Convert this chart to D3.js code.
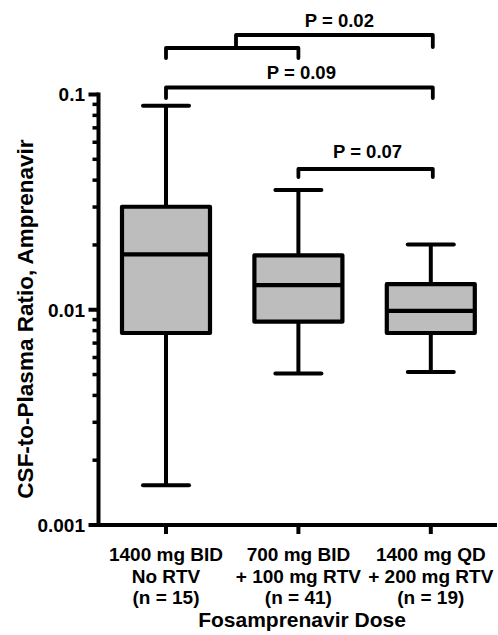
<!DOCTYPE html>
<html>
<head>
<meta charset="utf-8">
<script src="https://cdn.jsdelivr.net/npm/d3@7"></script>
<style>
  html, body { margin: 0; padding: 0; background: #fff; }
  svg { display: block; }
  text { font-family: "Liberation Sans", Arial, Helvetica, sans-serif; font-weight: bold; fill: #000; }
</style>
</head>
<body>
<svg id="chart" width="498" height="635"></svg>
<script>
// ---- data ----
const doseLabels = ["1400 mg BID", "700 mg BID", "1400 mg QD"];
const rtvLabels = ["No RTV", "+ 100 mg RTV", "+ 200 mg RTV"];
const nLabels = ["(n = 15)", "(n = 41)", "(n = 19)"];
const whiskerLow = [0.00153, 0.00505, 0.00514];
const q1 = [0.0078, 0.0088, 0.0078];
const median = [0.0181, 0.0130, 0.00987];
const q3 = [0.0301, 0.0179, 0.01315];
const whiskerHigh = [0.0887, 0.0360, 0.0201];
const majorTicks = [0.001, 0.01, 0.1];
const majorTickLabels = ["0.001", "0.01", "0.1"];
const pLabels = ["P = 0.02", "P = 0.09", "P = 0.07"];
const yTitle = "CSF-to-Plasma Ratio, Amprenavir";
const xTitle = "Fosamprenavir Dose";

// ---- layout ----
const svg = d3.select("#chart");
const axisX = 98.5, axisBottom = 525, axisTop = 94.5;

const x = d3.scaleBand().domain(d3.range(doseLabels.length)).range([99.8, 497]).padding(0);
const y = d3.scaleLog().domain([0.001, 0.1]).range([axisBottom, axisTop]);
const boxW = 88, capW = 46;
const cx = i => x(i) + x.bandwidth() / 2;

// y axis minor ticks
const minorTicks = [];
[0.001, 0.01].forEach(b => { for (let k = 2; k <= 9; k++) minorTicks.push(b * k); });

const gy = svg.append("g");
gy.selectAll("line.minor").data(minorTicks).join("line")
  .attr("x1", axisX - 6).attr("x2", axisX)
  .attr("y1", d => y(d)).attr("y2", d => y(d))
  .attr("stroke", "#000").attr("stroke-width", 3.5);
gy.selectAll("line.major").data(majorTicks).join("line")
  .attr("x1", axisX - 10).attr("x2", axisX)
  .attr("y1", d => y(d)).attr("y2", d => y(d))
  .attr("stroke", "#000").attr("stroke-width", 4);
gy.selectAll("text.tl").data(majorTicks).join("text")
  .attr("x", axisX - 13.5).attr("y", d => y(d))
  .attr("dy", "0.36em")
  .attr("text-anchor", "end")
  .style("font-size", "19px")
  .text((d, i) => majorTickLabels[i]);
// y axis line
svg.append("line").attr("x1", axisX).attr("x2", axisX)
  .attr("y1", y(0.1) - 2).attr("y2", axisBottom + 2)
  .attr("stroke", "#000").attr("stroke-width", 4);
// x axis line
svg.append("line").attr("x1", axisX - 2).attr("x2", 497)
  .attr("y1", axisBottom).attr("y2", axisBottom)
  .attr("stroke", "#000").attr("stroke-width", 4);
// x ticks
svg.selectAll("line.xt").data(d3.range(doseLabels.length)).join("line")
  .attr("x1", cx).attr("x2", cx)
  .attr("y1", axisBottom).attr("y2", axisBottom + 9)
  .attr("stroke", "#000").attr("stroke-width", 4);

// category labels
const catG = svg.selectAll("text.cat").data(d3.range(doseLabels.length)).join("text")
  .attr("text-anchor", "middle").style("font-size", "19px");
catG.append("tspan").attr("x", cx).attr("y", 561).text(i => doseLabels[i]);
catG.append("tspan").attr("x", cx).attr("y", 583).text(i => rtvLabels[i]);
catG.append("tspan").attr("x", cx).attr("y", 604).text(i => nLabels[i]);

// axis titles
svg.append("text").attr("x", 302).attr("y", 627).attr("text-anchor", "middle")
  .style("font-size", "21px").text(xTitle);
svg.append("text").attr("transform", "translate(33,319) rotate(-90)")
  .attr("text-anchor", "middle").style("font-size", "22.5px").text(yTitle);

// boxes
const boxes = svg.selectAll("g.box").data(d3.range(doseLabels.length)).join("g");
boxes.append("line")
  .attr("x1", cx).attr("x2", cx)
  .attr("y1", i => y(whiskerLow[i])).attr("y2", i => y(q1[i]))
  .attr("stroke", "#000").attr("stroke-width", 4);
boxes.append("line")
  .attr("x1", cx).attr("x2", cx)
  .attr("y1", i => y(q3[i])).attr("y2", i => y(whiskerHigh[i]))
  .attr("stroke", "#000").attr("stroke-width", 4);
boxes.append("line")
  .attr("x1", i => cx(i) - capW / 2).attr("x2", i => cx(i) + capW / 2)
  .attr("y1", i => y(whiskerLow[i])).attr("y2", i => y(whiskerLow[i]))
  .attr("stroke", "#000").attr("stroke-width", 4).attr("stroke-linecap", "round");
boxes.append("line")
  .attr("x1", i => cx(i) - capW / 2).attr("x2", i => cx(i) + capW / 2)
  .attr("y1", i => y(whiskerHigh[i])).attr("y2", i => y(whiskerHigh[i]))
  .attr("stroke", "#000").attr("stroke-width", 4).attr("stroke-linecap", "round");
boxes.append("rect")
  .attr("x", i => cx(i) - boxW / 2).attr("width", boxW)
  .attr("y", i => y(q3[i])).attr("height", i => y(q1[i]) - y(q3[i]))
  .attr("fill", "#bdbdbd").attr("stroke", "#000").attr("stroke-width", 4.2)
  .attr("stroke-linejoin", "round");
boxes.append("line")
  .attr("x1", i => cx(i) - boxW / 2).attr("x2", i => cx(i) + boxW / 2)
  .attr("y1", i => y(median[i])).attr("y2", i => y(median[i]))
  .attr("stroke", "#000").attr("stroke-width", 4.2);

// significance brackets
const br = svg.append("g").attr("fill", "none").attr("stroke", "#000")
  .attr("stroke-width", 3.8).attr("stroke-linejoin", "round").attr("stroke-linecap", "round");
const c0 = cx(0), c1 = cx(1), c2 = cx(2) + 2;
const joinX = 236;
// lower bracket (group 1 & 2)
br.append("path").attr("d", `M${c0},58 V48 H${c1} V58`);
// upper bracket (groups 1+2 vs 3)
br.append("path").attr("d", `M${joinX},48 V35 H${c2} V47`);
// P = 0.09
br.append("path").attr("d", `M${c0},98 V87.5 H${c2} V98`);
// P = 0.07
br.append("path").attr("d", `M${c1},177 V169 H${c2} V177`);

svg.append("text").attr("x", (joinX + c2) / 2 + 5).attr("y", 27).attr("text-anchor", "middle")
  .style("font-size", "18.5px").text(pLabels[0]);
svg.append("text").attr("x", (c0 + c2) / 2 + 2).attr("y", 79).attr("text-anchor", "middle")
  .style("font-size", "18.5px").text(pLabels[1]);
svg.append("text").attr("x", (c1 + c2) / 2 + 2).attr("y", 158).attr("text-anchor", "middle")
  .style("font-size", "18.5px").text(pLabels[2]);
</script>
</body>
</html>
